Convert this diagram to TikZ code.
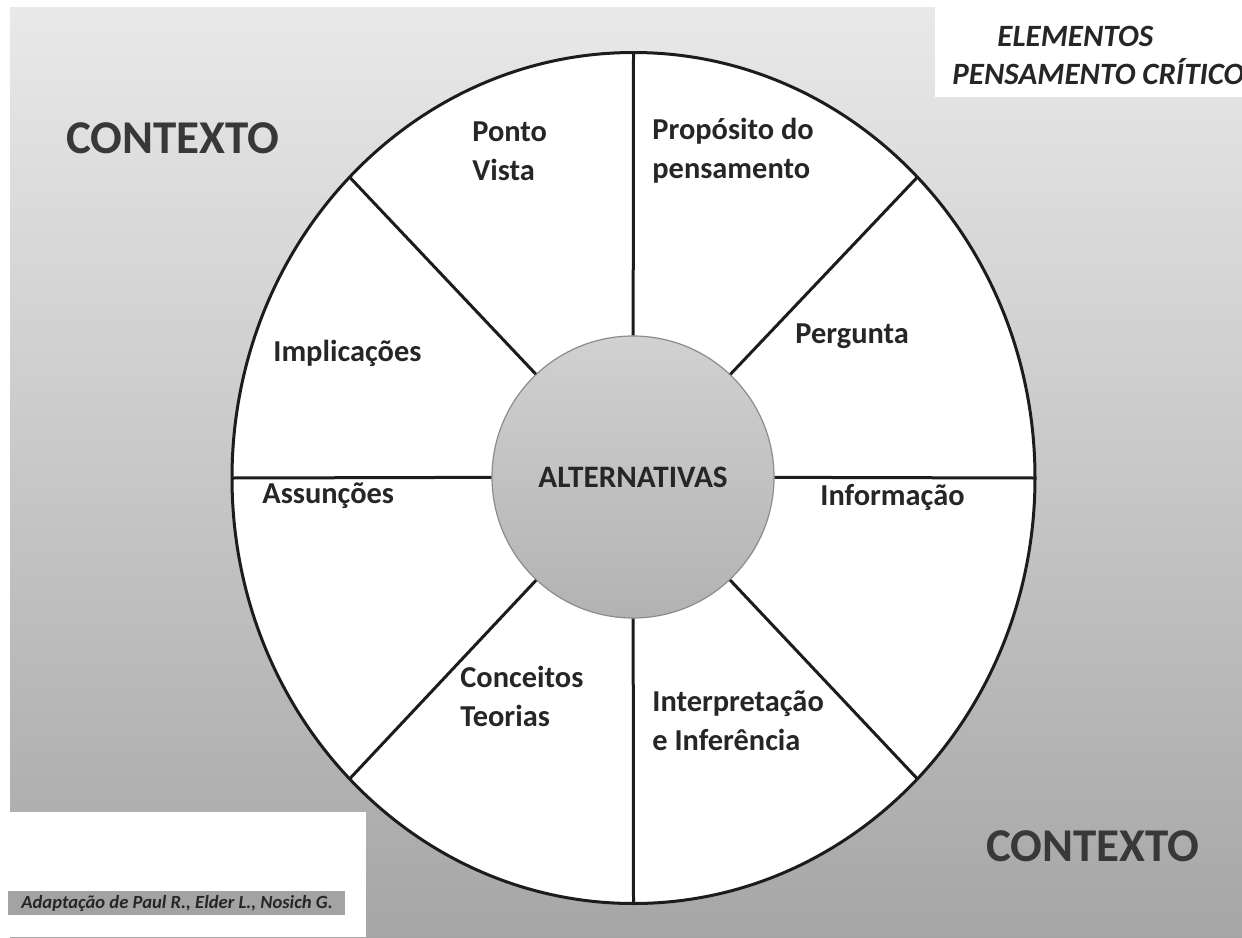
\documentclass[tikz,border=0pt]{standalone}
\usepackage{fontspec}
\setmainfont{Carlito}
\usetikzlibrary{shapes.geometric}
\definecolor{ink}{HTML}{262626}
\definecolor{rim}{HTML}{1C1C1C}
\definecolor{ctxfill}{HTML}{383838}
\definecolor{bgtop}{HTML}{E9E9E9}
\definecolor{bgbot}{HTML}{A6A6A6}
\definecolor{credit}{HTML}{A3A3A3}
\begin{document}
\begin{tikzpicture}[x=0.5pt,y=-0.5pt,
  lbl/.style={font=\bfseries\fontsize{15.2}{19.5}\selectfont, text=ink, inner sep=0pt, anchor=west, align=left},
  ctx/.style={font=\bfseries\fontsize{23.5}{28}\selectfont, text=ctxfill, inner sep=0pt},
  ttl/.style={font=\bfseries\itshape\fontsize{15.5}{19}\selectfont, text=ink, inner sep=0pt, anchor=west},
  spoke/.style={line width=1.5pt, draw=rim}]
% page
\fill[white] (0,0) rectangle (1242,937);
\useasboundingbox (0,0) rectangle (1242,937);
% background
\shade[top color=bgtop, bottom color=bgbot] (10,7) rectangle (1242,937);
\fill[white] (935,0) rectangle (1242,97);
\fill[white] (0,812) rectangle (366,937);
% wheel
\node[ellipse, draw=rim, line width=1.5pt, fill=white, inner sep=0pt, outer sep=0pt,
      minimum width=401.5pt, minimum height=425.5pt] (wheel) at (633.5,478) {};
\foreach \i/\a in {0/0,1/45,2/90,3/135,4/180,5/225,6/270,7/315}
  \coordinate (e\i) at ({633.5+401.5*cos(\a)},{478-425.5*sin(\a)});
% centre
\node[circle, draw=white!55!black, line width=0.6pt, top color=white!82!black, bottom color=white!70!black,
      minimum size=141pt, inner sep=0pt, font=\bfseries\fontsize{15.6}{18}\selectfont, text=ink] (alt) at (633,477) {ALTERNATIVAS};
\foreach \i in {0,...,7}
  \draw[spoke] (alt) -- (e\i);
% labels
\node[lbl] (pv) at (472,151) {Ponto\\Vista};
\node[lbl] (pp) at (652,151) {Propósito do\\pensamento};
\node[lbl] (pe) at (795,336) {Pergunta};
\node[lbl] (im) at (273,353) {Implicações};
\node[lbl] (as) at (262,496) {Assunções};
\node[lbl] (inf) at (820,497) {Informação};
\node[lbl] (ct) at (460,696) {Conceitos\\Teorias};
\node[lbl] (ii) at (652,721) {Interpretação\\e Inferência};
% context labels
\node[ctx] (ctxa) at (173,138) {CONTEXTO};
\node[ctx] (ctxb) at (1093,846) {CONTEXTO};
% title
\node[ttl] (t1) at (997,36) {ELEMENTOS};
\node[ttl] (t2) at (952,72) {PENSAMENTO CRÍTICO};
% credit
\fill[credit] (8,891) rectangle (345,915);
\node[font=\bfseries\itshape\fontsize{9.3}{11}\selectfont, text=ink, inner sep=0pt, anchor=west] (cr) at (21,903) {Adaptação de Paul R., Elder L., Nosich G.};
\end{tikzpicture}
\end{document}
